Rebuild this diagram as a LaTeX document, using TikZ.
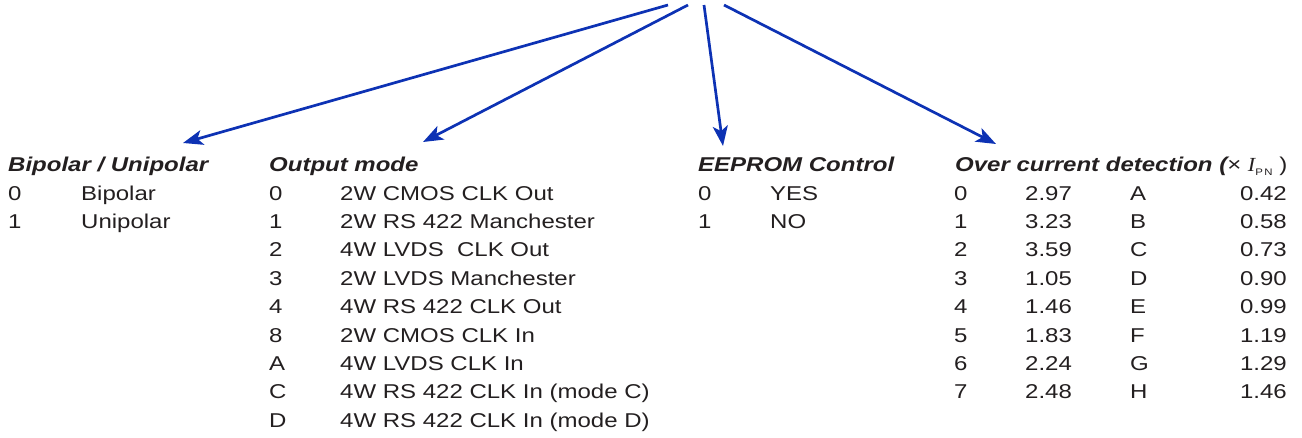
\documentclass[tikz,border=0pt]{standalone}
\usepackage{fontspec}
\setmainfont{Liberation Sans}[FakeStretch=1.2]
\newfontfamily\serifit{Liberation Serif}[FakeStretch=1.1]
\usetikzlibrary{arrows.meta}
\definecolor{ink}{RGB}{35,31,32}
\definecolor{arrowblue}{RGB}{13,50,180}
\tikzset{
txt/.style={anchor=base west, inner sep=0pt, text=ink, font=\fontsize{20}{24}\selectfont},
headtxt/.style={txt, font=\fontsize{20}{24}\selectfont\bfseries\itshape},
numr/.style={txt, anchor=base east},
pointer/.style={draw=arrowblue, line width=2.7pt, -{Stealth[length=20pt,width=15pt,inset=5pt]}}
}
\begin{document}
\begin{tikzpicture}[x=1pt,y=-1pt]
\useasboundingbox (0,0) rectangle (1302,437);

% arrows from the top
\coordinate (s1) at (668,5);
\coordinate (s2) at (688,5);
\coordinate (s3) at (704,5);
\coordinate (s4) at (724,5);
\coordinate (t1) at (183,143);
\coordinate (t2) at (423,142);
\coordinate (t3) at (723,146);
\coordinate (t4) at (996,144);
\draw[pointer] (s1) -- (t1);
\draw[pointer] (s2) -- (t2);
\draw[pointer] (s3) -- (t3);
\draw[pointer] (s4) -- (t4);

% bipolar / unipolar
\node[headtxt] (hbu) at (8,171) {Bipolar / Unipolar};
\node[txt] (bu0) at (8,200) {0};
\node[txt] (bu0l) at (81,200) {Bipolar};
\node[txt] (bu1) at (8,228.4) {1};
\node[txt] (bu1l) at (81,228.4) {Unipolar};

% output mode
\node[headtxt] (hom) at (269,171) {Output mode};
\node[txt] (om0) at (269,200) {0};
\node[txt] (om0l) at (340,200) {2W CMOS CLK Out};
\node[txt] (om1) at (269,228.4) {1};
\node[txt] (om1l) at (340,228.4) {2W RS 422 Manchester};
\node[txt] (om2) at (269,256.8) {2};
\node[txt] (om2l) at (340,256.8) {4W LVDS\ \ CLK Out};
\node[txt] (om3) at (269,285.2) {3};
\node[txt] (om3l) at (340,285.2) {2W LVDS Manchester};
\node[txt] (om4) at (269,313.6) {4};
\node[txt] (om4l) at (340,313.6) {4W RS 422 CLK Out};
\node[txt] (om8) at (269,342) {8};
\node[txt] (om8l) at (340,342) {2W CMOS CLK In};
\node[txt] (omA) at (269,370.4) {A};
\node[txt] (omAl) at (340,370.4) {4W LVDS CLK In};
\node[txt] (omC) at (269,398.8) {C};
\node[txt] (omCl) at (340,398.8) {4W RS 422 CLK In (mode C)};
\node[txt] (omD) at (269,427.2) {D};
\node[txt] (omDl) at (340,427.2) {4W RS 422 CLK In (mode D)};

% eeprom
\node[headtxt] (hee) at (698,171) {EEPROM Control};
\node[txt] (ee0) at (698,200) {0};
\node[txt] (ee0l) at (770,200) {YES};
\node[txt] (ee1) at (698,228.4) {1};
\node[txt] (ee1l) at (770,228.4) {NO};

% over current
\node[headtxt] (hoc) at (955,171) {Over current detection ({\mdseries\upshape\texttimes}\ {\mdseries\upshape\serifit\itshape I}\raisebox{-0.4ex}{\mdseries\upshape\fontsize{9.5}{9.5}\selectfont P\,N}\ {\mdseries\upshape)}};
\node[txt] (oc0) at (954,200) {0};
\node[txt] (oc0v) at (1025,200) {2.97};
\node[txt] (oc0k) at (1130,200) {A};
\node[numr] (oc0w) at (1287,200) {0.42};
\node[txt] (oc1) at (954,228.4) {1};
\node[txt] (oc1v) at (1025,228.4) {3.23};
\node[txt] (oc1k) at (1130,228.4) {B};
\node[numr] (oc1w) at (1287,228.4) {0.58};
\node[txt] (oc2) at (954,256.8) {2};
\node[txt] (oc2v) at (1025,256.8) {3.59};
\node[txt] (oc2k) at (1130,256.8) {C};
\node[numr] (oc2w) at (1287,256.8) {0.73};
\node[txt] (oc3) at (954,285.2) {3};
\node[txt] (oc3v) at (1025,285.2) {1.05};
\node[txt] (oc3k) at (1130,285.2) {D};
\node[numr] (oc3w) at (1287,285.2) {0.90};
\node[txt] (oc4) at (954,313.6) {4};
\node[txt] (oc4v) at (1025,313.6) {1.46};
\node[txt] (oc4k) at (1130,313.6) {E};
\node[numr] (oc4w) at (1287,313.6) {0.99};
\node[txt] (oc5) at (954,342) {5};
\node[txt] (oc5v) at (1025,342) {1.83};
\node[txt] (oc5k) at (1130,342) {F};
\node[numr] (oc5w) at (1287,342) {1.19};
\node[txt] (oc6) at (954,370.4) {6};
\node[txt] (oc6v) at (1025,370.4) {2.24};
\node[txt] (oc6k) at (1130,370.4) {G};
\node[numr] (oc6w) at (1287,370.4) {1.29};
\node[txt] (oc7) at (954,398.8) {7};
\node[txt] (oc7v) at (1025,398.8) {2.48};
\node[txt] (oc7k) at (1130,398.8) {H};
\node[numr] (oc7w) at (1287,398.8) {1.46};
\end{tikzpicture}
\end{document}
